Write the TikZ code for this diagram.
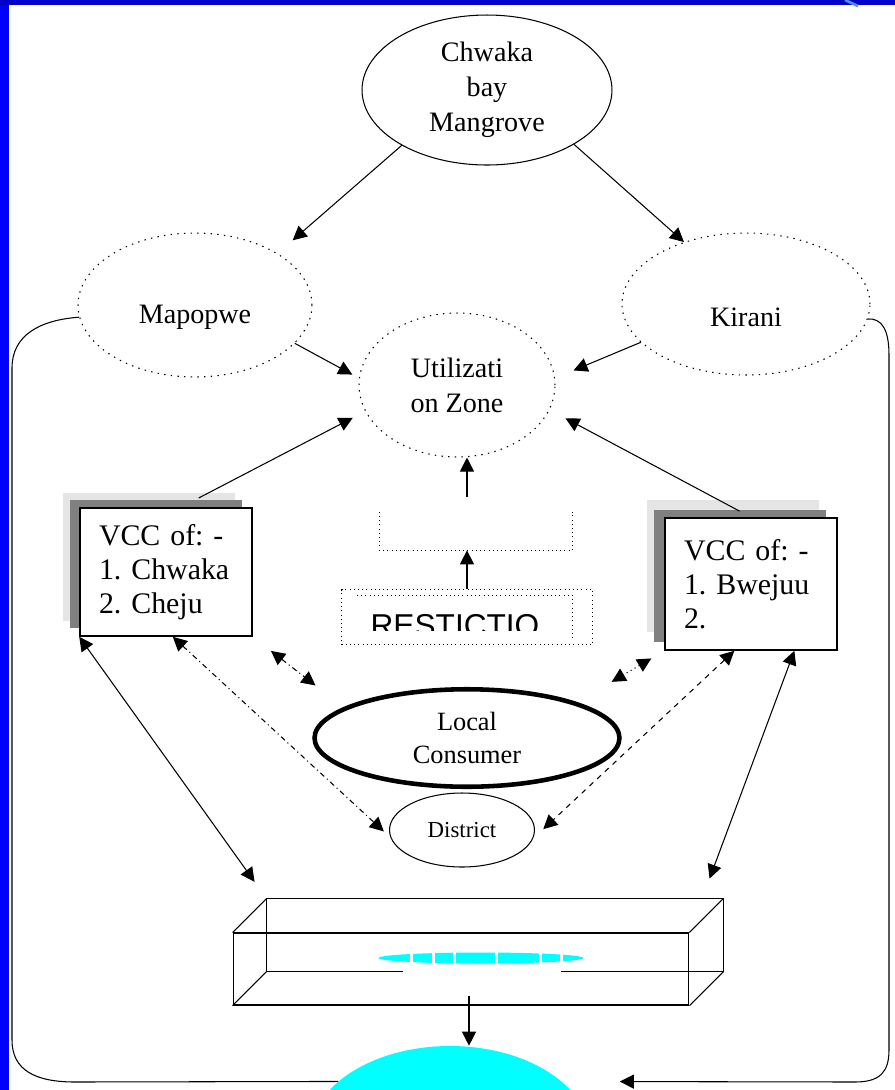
\documentclass[tikz,border=0pt]{standalone}
\usepackage{fontspec}
\setmainfont{Liberation Serif}
\newfontfamily\restfont{Liberation Sans}
\usetikzlibrary{arrows.meta, positioning, shapes.geometric, shadows}
\definecolor{framecolor}{RGB}{0,0,255}
\definecolor{bandcolor}{RGB}{0,0,200}
\definecolor{sinkcolor}{RGB}{0,255,255}
\frenchspacing

\begin{document}
\begin{tikzpicture}[x=0.02cm, y=-0.02cm, >={Triangle[length=8pt, width=8pt]},
    every node/.style={font=\fontsize{16}{20}\selectfont},
    oval/.style={ellipse, draw, inner sep=0pt, line width=0.6pt},
    dotoval/.style={oval, dash pattern=on 0.8pt off 3pt},
    vccbox/.style={rectangle, draw, fill=white, line width=0.9pt, align=left, text width=2.68cm, inner xsep=0.38cm, minimum width=3.44cm, font=\fontsize{17}{19.5}\selectfont},
    link/.style={->, line width=0.6pt}, twoway/.style={<->, line width=0.6pt}]

    \useasboundingbox (0,0) rectangle (895,1090);
    \fill[framecolor] (0,0) rectangle (9,1090);
    \fill[bandcolor] (0,0) rectangle (895,5);
    \draw[color={rgb,255:red,80;green,140;blue,255}, line width=1.5pt] (845,0) -- (858,6);

    % mangrove and the two creeks
    \node[oval, minimum width=5cm, minimum height=3cm, align=center] (mangrove) at (487,90) {Chwaka\\bay\\Mangrove};
    \node[dotoval, minimum width=4.68cm, minimum height=2.88cm, label={[yshift=-0.24cm]center:Mapopwe}] (mapopwe) at (195,305) {};
    \node[dotoval, minimum width=4.96cm, minimum height=2.84cm, label={[yshift=-0.26cm]center:Kirani}] (kirani) at (746,304) {};
    \node[dotoval, minimum width=3.92cm, minimum height=2.88cm, align=center] (zone) at (457,385) {Utilizati\\on Zone};

    % restriction
    \node[minimum width=3.84cm, minimum height=0.76cm] (openbox) at (476,531) {};
    \draw[dotted] (openbox.north west) -- (openbox.south west) -- (openbox.south east) -- (openbox.north east);
    \node[draw, dotted, minimum width=5.02cm, minimum height=1.1cm] (restr) at (467,617) {};
    \draw[dotted] (357,595) -- (572,595) -- (572,638);
    \begin{scope}
      \clip (342,600) rectangle (593,630);
      \node[font=\restfont\fontsize{18}{20}\selectfont, anchor=base] (restrtext) at (455,636) {RESTICTIO};
    \end{scope}

    % village conservation committees
    \node[vccbox, minimum height=2.56cm, general shadow={fill=black!10, shadow xshift=-0.34cm, shadow yshift=0.3cm},
      general shadow={fill=black!50, shadow xshift=-0.2cm, shadow yshift=0.16cm}] (vccl) at (166,572) {VCC of: -\\1. Chwaka\\2. Cheju};
    \node[vccbox, minimum height=2.64cm, general shadow={fill=black!10, shadow xshift=-0.36cm, shadow yshift=0.36cm},
      general shadow={fill=black!50, shadow xshift=-0.22cm, shadow yshift=0.16cm}] (vccr) at (751,584) {VCC of: -\\1. Bwejuu\\2.};

    \node[oval, line width=2.6pt, minimum width=6.1cm, minimum height=1.95cm, align=center, font=\fontsize{15}{19}\selectfont] (consumer) at (467,738) {Local\\Consumer};
    \node[oval, minimum width=2.9cm, minimum height=1.48cm, font=\fontsize{13}{15}\selectfont] (district) at (462,830) {District};

    % box
    \node[draw, minimum width=9.12cm, minimum height=1.44cm, line width=0.6pt] (store) at (461,969) {};
    \draw[line width=0.6pt] ([shift={(34,-34)}]store.south west) rectangle ([shift={(34,-34)}]store.north east);
    \foreach \c in {north west, north east, south west, south east}
      \draw[line width=0.6pt] (store.\c) -- ++(34,-34);
    \coordinate (storeback) at ([shift={(34,-34)}]store.north west);
    \fill[white] (403,966) rectangle (561,979);
    \node[ellipse, fill=sinkcolor, minimum width=4.1cm, minimum height=0.22cm, inner sep=0pt] (boxlabel) at (481,958) {};
    \foreach \x in {410, 432, 453, 495, 539, 560}
      \fill[white] (\x,950) rectangle ++(3,16);

    \node[ellipse, fill=sinkcolor, minimum width=5.6cm, minimum height=3.6cm, inner sep=0pt] (sink) at (450,1136) {};

    \draw[link, shorten >=0.4cm] (mangrove.213) -- (mapopwe.32);
    \draw[link] (mangrove.328) -- (kirani.135);
    \draw[link, shorten >=0.15cm] (mapopwe.339) -- (zone.176);
    \draw[link, shorten >=0.4cm] (kirani.200) -- (zone.4);
    \draw[link, shorten <=0.4cm, shorten >=0.28cm] (vccl.77) -- (zone.196);
    \draw[link, shorten <=0.26cm, shorten >=0.36cm] (vccr.north) -- (zone.345);
    \draw[link] (restr.north) -- (restr.north |- openbox.south);
    \draw[link, shorten <=0.3cm] (restr.north |- openbox.north) -- (restr.north |- zone.south);

    \draw[twoway, shorten >=0.41cm] (vccl.south west) -- (storeback);
    \draw[twoway, shorten >=1.15cm] (vccr.303) -- (store.north east);
    \draw[twoway, dash dot, shorten >=0.18cm] (vccl.276) -- (district.186);
    \draw[twoway, dash dot, shorten <=0.46cm, shorten >=0.71cm] (vccl.south east) -- (consumer.166);
    \draw[twoway, dotted, shorten <=0.3cm, shorten >=0.8cm] (vccr.south west) -- (consumer.18);
    \draw[twoway, dashed, shorten >=0.28cm] (vccr.256) -- (district.353);

    \draw[line width=0.6pt] (mapopwe.186) .. controls (40,320) and (12,335) .. (12,368) -- (12,1040)
      .. controls (12,1070) and (35,1082) .. (75,1082) -- (sink.154);
    \draw[link, shorten >=1.16cm] (kirani.353) .. controls (882,318) and (889,330) .. (889,355) -- (889,1050)
      .. controls (889,1072) and (880,1082) .. (855,1082) -- (sink.26);
    \draw[link] ([xshift=0.16cm, yshift=0.2cm]store.south) -- ([xshift=0.16cm]store.south |- sink.north);

\end{tikzpicture}
\end{document}
